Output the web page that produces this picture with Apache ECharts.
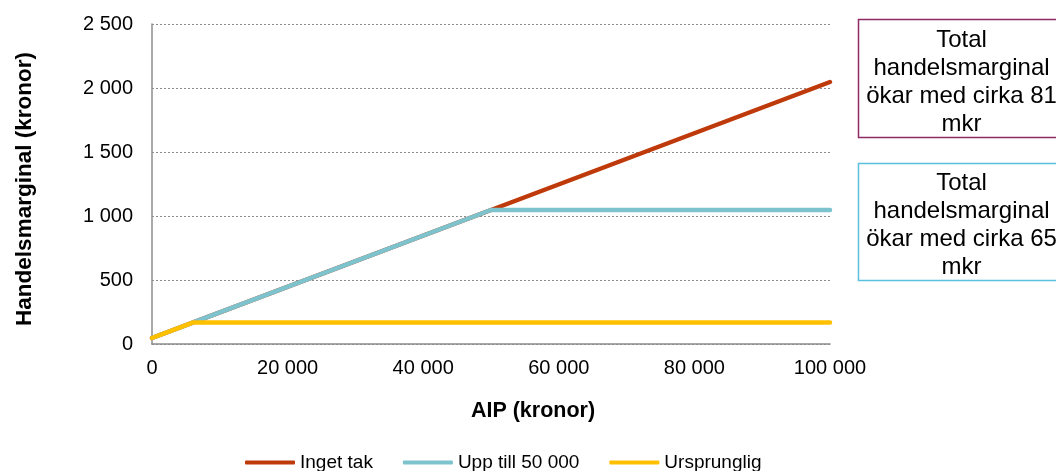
<!DOCTYPE html>
<html>
<head>
<meta charset="utf-8">
<script src="https://cdn.jsdelivr.net/npm/echarts@6/dist/echarts.min.js"></script>
<style>html,body{margin:0;padding:0;background:#fff;}#c{width:1056px;height:471px;}</style>
</head>
<body>
<div id="c"></div>
<script>
const aip = [0, 6000, 50000, 100000];
const ingetTak = [47, 167, 1047, 2047];
const uppTill50000 = [47, 167, 1047, 1047];
const ursprunglig = [47, 167, 167, 167];
const seriesNames = ['Inget tak', 'Upp till 50 000', 'Ursprunglig'];
const box1Text = 'Total\nhandelsmarginal\nökar med cirka 81\nmkr';
const box2Text = 'Total\nhandelsmarginal\nökar med cirka 65\nmkr';
const xTitle = 'AIP (kronor)';
const yTitle = 'Handelsmarginal (kronor)';

const FONT = "'Liberation Sans', Arial, sans-serif";
function fmt(v){ return String(v).replace(/\B(?=(\d{3})+(?!\d))/g, ' '); }
function pairs(ys){ return aip.map((x,i)=>[x, ys[i]]); }

const chart = echarts.init(document.getElementById('c'), null, {renderer:'canvas'});
const colors = ['#BF3A0A', '#7DC3CE', '#FFC000'];
const lineSeries = [ingetTak, uppTill50000, ursprunglig].map((d,i)=>({
  name: seriesNames[i], type:'line', data: pairs(d), showSymbol:false, symbol:'none',
  lineStyle:{width:4.5, color:colors[i], cap:'round', join:'round'}, itemStyle:{color:colors[i]},
  animation:false
}));

chart.setOption({
  animation:false,
  textStyle:{fontFamily:FONT},
  grid:{left:152, right:226, top:24, bottom:127},
  xAxis:{type:'value', min:0, max:100000, interval:20000,
    axisLine:{show:true, lineStyle:{color:'#8c8c8c', width:1.5}},
    axisTick:{show:false}, splitLine:{show:false},
    axisLabel:{formatter:fmt, color:'#000', fontSize:20, margin:14, fontFamily:FONT}},
  yAxis:{type:'value', min:0, max:2500, interval:500,
    axisLine:{show:true, lineStyle:{color:'#8c8c8c', width:1.5}},
    axisTick:{show:false},
    splitLine:{show:true, lineStyle:{color:'#8c8c8c', type:[2,2], width:1}},
    axisLabel:{formatter:fmt, color:'#000', fontSize:20, margin:19, fontFamily:FONT}},
  legend:{data:seriesNames, left:240, top:448, itemWidth:50, itemHeight:4, itemGap:30,
    icon:'roundRect', textStyle:{fontSize:19, color:'#000', fontFamily:FONT}},
  series: lineSeries,
  graphic:[
    {type:'text', x:533, y:411, style:{text:xTitle, font:"bold 21.5px "+FONT, fill:'#000', textAlign:'center', textVerticalAlign:'middle'}},
    {type:'text', x:25, y:189, rotation:Math.PI/2, style:{text:yTitle, font:"bold 22.5px "+FONT, fill:'#000', textAlign:'center', textVerticalAlign:'middle'}},
    {type:'rect', shape:{x:858.5, y:19.5, width:220, height:118}, style:{fill:'#fff', stroke:'#8E2A64', lineWidth:1.5}},
    {type:'text', x:961.5, y:82, style:{text:box1Text, font:"24px "+FONT, lineHeight:28, fill:'#000', textAlign:'center', textVerticalAlign:'middle'}},
    {type:'rect', shape:{x:858.5, y:163.5, width:220, height:117}, style:{fill:'#fff', stroke:'#5BBFDE', lineWidth:1.5}},
    {type:'text', x:961.5, y:225, style:{text:box2Text, font:"24px "+FONT, lineHeight:28, fill:'#000', textAlign:'center', textVerticalAlign:'middle'}}
  ]
});
</script>
</body>
</html>
